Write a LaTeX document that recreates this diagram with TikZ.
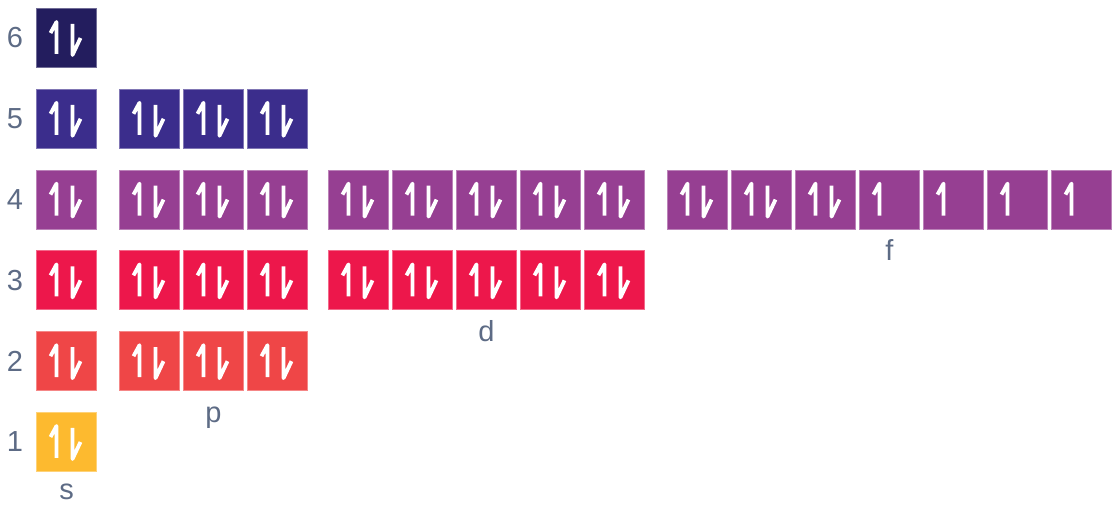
\documentclass[tikz,border=0pt]{standalone}
\usepackage{fontspec}
\setmainfont{Liberation Sans}
\usetikzlibrary{positioning}
\definecolor{sunshell}{HTML}{FDBA2F}
\definecolor{coralshell}{HTML}{EF4647}
\definecolor{crimsonshell}{HTML}{ED174B}
\definecolor{plumshell}{HTML}{963F92}
\definecolor{indigoshell}{HTML}{3B2D8C}
\definecolor{navyshell}{HTML}{231D5E}
\definecolor{labelgray}{HTML}{5D6B85}
\tikzset{
  paired/.pic={
    \draw[spin] (-16,5) -- (-10,16) -- (-10,-16);
    \draw[spin] (6,14) -- (6,-17) -- (14,0);
  },
  unpaired/.pic={
    \draw[spin] (-16,5) -- (-10,16) -- (-10,-16);
  }
}
\begin{document}
\begin{tikzpicture}[x=1pt,y=1pt,
  orb/.style={minimum width=60pt,minimum height=59pt,inner sep=0pt,line width=0.8pt},
  spin/.style={white,line width=3.8pt,line join=round},
  lbl/.style={font=\fontsize{29}{34}\selectfont,text=labelgray,inner sep=0pt}]
\useasboundingbox (0,0) rectangle (1112,506);
% s column and shell numbers
\foreach \n/\c in {1/sunshell,2/coralshell,3/crimsonshell,4/plumshell,5/indigoshell,6/navyshell}{
  \node[orb,fill=\c,draw=\c!65!white] (s\n) at (66.5,{64+(\n-1)*80.8}) {};
  \pic at (s\n) {paired};
  \node[lbl,left=13pt of s\n] (n\n) {\n};
}
% p column
\foreach \n/\c in {2/coralshell,3/crimsonshell,4/plumshell,5/indigoshell}{
  \foreach \k in {1,2,3}{
    \node[orb,fill=\c,draw=\c!65!white] (p\n\k) at ({149.5+(\k-1)*64},{64+(\n-1)*80.8}) {};
    \pic at (p\n\k) {paired};
  }
}
% d column
\foreach \n/\c in {3/crimsonshell,4/plumshell}{
  \foreach \k in {1,...,5}{
    \node[orb,fill=\c,draw=\c!65!white] (d\n\k) at ({358.5+(\k-1)*64},{64+(\n-1)*80.8}) {};
    \pic at (d\n\k) {paired};
  }
}
% f column
\foreach \k in {1,...,7}{
  \node[orb,fill=plumshell,draw=plumshell!65!white] (f\k) at ({697.5+(\k-1)*64},306.4) {};
}
\foreach \k in {1,2,3}{ \pic at (f\k) {paired}; }
\foreach \k in {4,...,7}{ \pic at (f\k) {unpaired}; }
% subshell letters
\node[lbl,anchor=base] (ls) at ([yshift=-28pt]s1.south) {s};
\node[lbl,anchor=base] (lp) at ([yshift=-31pt]p22.south) {p};
\node[lbl,anchor=base] (ld) at ([yshift=-31pt]d33.south) {d};
\node[lbl,anchor=base] (lf) at ([yshift=-31pt]f4.south) {f};
\end{tikzpicture}
\end{document}
